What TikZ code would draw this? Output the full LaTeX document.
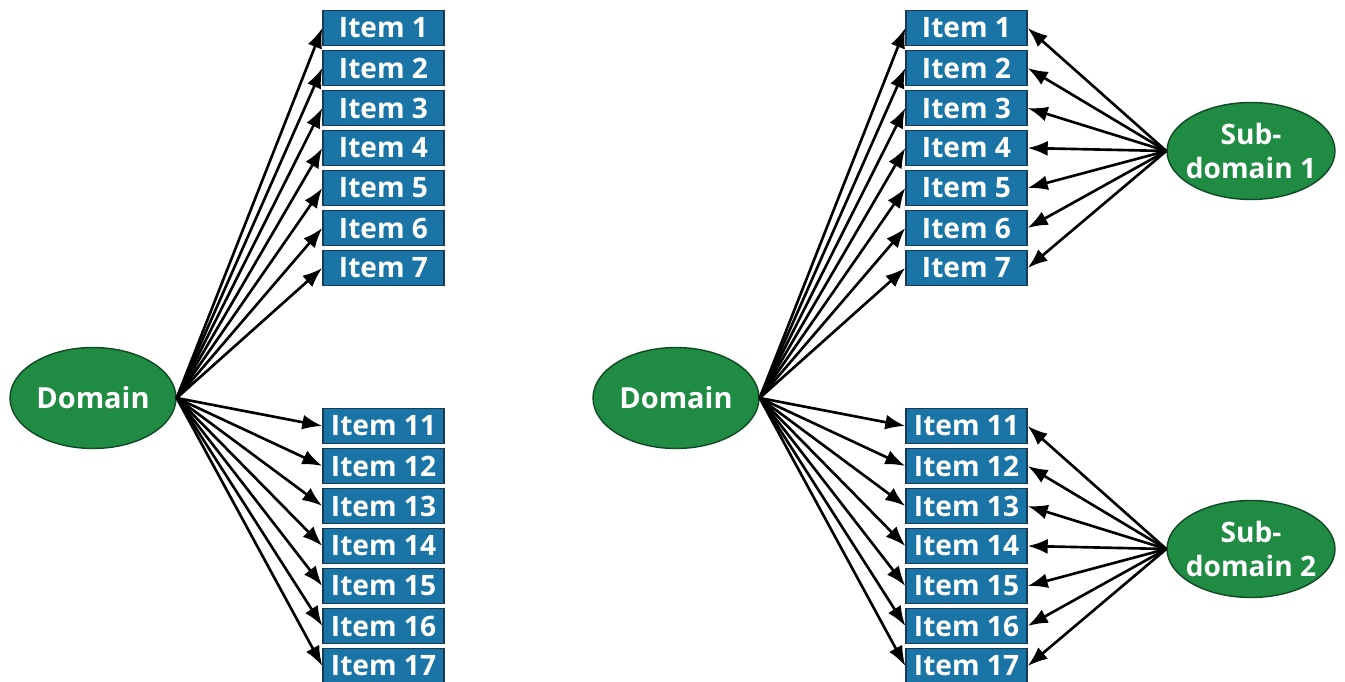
\documentclass[tikz,border=0pt]{standalone}
\usepackage{fontspec}
\setsansfont{Open Sans}
\usetikzlibrary{arrows.meta, shapes.geometric}
\definecolor{cbox}{HTML}{1A74A6}
\definecolor{cboxedge}{HTML}{173B57}
\definecolor{cdom}{HTML}{1F8B43}
\definecolor{cdomedge}{HTML}{0F4A24}
\tikzset{
  every picture/.style={font=\sffamily\bfseries},
  item/.style={draw=cboxedge, fill=cbox, text=white, line width=0.8pt, minimum width=2.42cm, minimum height=0.7cm, inner sep=0pt, font=\sffamily\bfseries\fontsize{16}{17}\selectfont},
  dom/.style={ellipse, draw=cdomedge, fill=cdom, text=white, line width=0.8pt, minimum width=3.32cm, minimum height=2.02cm, inner sep=0pt, align=center, font=\sffamily\bfseries\fontsize{16.5}{19}\selectfont},
  subdom/.style={dom, minimum width=3.36cm, minimum height=1.94cm, inner xsep=-12pt, inner ysep=-2pt, font=\sffamily\bfseries\fontsize{16}{19}\selectfont},
  arrow/.style={-{Latex[length=4mm, width=3mm]}, line width=1.5pt},
}

\begin{document}
\begin{tikzpicture}[x=0.02cm, y=-0.02cm]
  \useasboundingbox (0,0) rectangle (1345,682);
  % one domain, fourteen items
  \node[dom] (d1) at (93,398) {Domain};
  \foreach \i in {1,...,7} \node[item] (a\i) at (383.5,{28+40*(\i-1)}) {Item \i};
  \foreach \i in {11,...,17} \node[item] (a\i) at (383.5,{426+40*(\i-11)}) {Item \i};
  \foreach \i in {1,2,3,4,5,6,7,11,12,13,14,15,16,17} \draw[arrow] (d1.east) -- (a\i.west);

  % same domain, split in two sub-domains
  \node[dom] (d2) at (676,398) {Domain};
  \node[subdom] (s1) at (1251,151) {Sub-\\domain 1};
  \node[subdom] (s2) at (1251,549) {Sub-\\domain 2};
  \foreach \i in {1,...,7} {
    \node[item] (b\i) at (966.5,{28+40*(\i-1)}) {Item \i};
    \draw[arrow] (d2.east) -- (b\i.west);
    \draw[arrow] (s1.west) -- (b\i.east);
  }
  \foreach \i in {11,...,17} {
    \node[item] (b\i) at (966.5,{426+40*(\i-11)}) {Item \i};
    \draw[arrow] (d2.east) -- (b\i.west);
    \draw[arrow] (s2.west) -- (b\i.east);
  }
\end{tikzpicture}
\end{document}
